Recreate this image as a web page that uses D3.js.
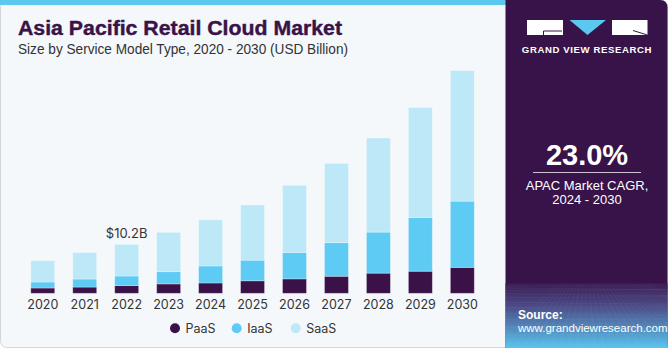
<!DOCTYPE html>
<html>
<head>
<meta charset="utf-8">
<script src="https://cdn.jsdelivr.net/npm/d3@7"></script>
<style>
  html, body { margin: 0; padding: 0; background: #ffffff; }
  svg { display: block; }
</style>
</head>
<body>
<svg id="chart"></svg>
<script>
// data (USD Billion)
var years = ["2020", "2021", "2022", "2023", "2024", "2025", "2026", "2027", "2028", "2029", "2030"];
var paas = [1.1, 1.3, 1.6, 1.95, 2.15, 2.6, 3.0, 3.55, 4.2, 4.6, 5.4];
var iaas = [1.25, 1.67, 2.0, 2.55, 3.55, 4.3, 5.5, 7.0, 8.55, 11.2, 13.8];
var saas = [4.45, 5.53, 6.6, 8.2, 9.6, 11.5, 14.0, 16.5, 19.6, 22.9, 27.2];
var seriesNames = ["PaaS", "IaaS", "SaaS"];
var seriesColors = ["#3a1248", "#5ecbf5", "#bde8f8"];
var callout = { year: "2022", label: "$10.2B" };

var W = 670, H = 350;
var svg = d3.select("#chart").attr("width", W).attr("height", H);

// card background + frame
svg.append("rect")
  .attr("x", 0.5).attr("y", 0.5).attr("width", 667).attr("height", 347)
  .attr("rx", 6)
  .attr("fill", "#f4f8fb")
  .attr("stroke", "#d4d6d9");
svg.append("rect")
  .attr("x", 0).attr("y", 0).attr("width", 506).attr("height", 5)
  .attr("fill", "#5bc8ef");

// right panel
var grad = svg.append("defs").append("linearGradient")
  .attr("id", "srcgrad").attr("x1", 0).attr("y1", 0).attr("x2", 0).attr("y2", 1);
grad.append("stop").attr("offset", "0%").attr("stop-color", "#3a1a52");
grad.append("stop").attr("offset", "35%").attr("stop-color", "#4b4a86");
grad.append("stop").attr("offset", "100%").attr("stop-color", "#5ac4ee");

svg.append("path")
  .attr("d", "M505.5,0 H660 Q667.5,0 667.5,8 V348 H505.5 Z")
  .attr("fill", "#381349");
svg.append("rect")
  .attr("x", 505.5).attr("y", 283).attr("width", 162).attr("height", 65)
  .attr("fill", "url(#srcgrad)");

// faint grid texture in the source box
var tex = svg.append("g").attr("stroke", "#ffffff").attr("stroke-opacity", 0.08).attr("stroke-width", 0.6);
d3.range(0, 14).forEach(function(i) {
  var yy = 286 + i * i * 0.33 + i * 1.6;
  tex.append("line").attr("x1", 506).attr("x2", 667).attr("y1", yy).attr("y2", yy + (i % 2 ? 2 : -1));
});
d3.range(-10, 22).forEach(function(i) {
  tex.append("line").attr("x1", 586 + i * 3).attr("y1", 284).attr("x2", 586 + i * 9).attr("y2", 348);
});

// logo
var logo = svg.append("g");
logo.append("rect").attr("x", 527).attr("y", 20).attr("width", 36).attr("height", 15).attr("fill", "#ffffff");
logo.append("path").attr("d", "M543.5,31 H562 M543.5,31 V35").attr("stroke", "#381349").attr("stroke-width", 1).attr("fill", "none");
logo.append("path").attr("d", "M569.5,20 H606 L587.5,35 Z").attr("fill", "#5bc8ef");
logo.append("rect").attr("x", 612).attr("y", 20).attr("width", 35.5).attr("height", 15).attr("fill", "#ffffff");
logo.append("path").attr("d", "M633,30.5 L647.5,35").attr("stroke", "#381349").attr("stroke-width", 1);
logo.append("text")
  .attr("x", 587).attr("y", 53)
  .attr("text-anchor", "middle")
  .attr("font-family", "'Liberation Sans', Arial, sans-serif")
  .attr("font-weight", "bold").attr("font-size", 9.6)
  .attr("letter-spacing", 0.6)
  .attr("fill", "#ffffff")
  .text("GRAND VIEW RESEARCH");

// CAGR block
svg.append("text")
  .attr("x", 587).attr("y", 165)
  .attr("text-anchor", "middle")
  .attr("font-family", "'Liberation Sans', Arial, sans-serif")
  .attr("font-weight", "bold").attr("font-size", 29)
  .attr("fill", "#ffffff")
  .text("23.0%");
svg.append("line")
  .attr("x1", 533).attr("x2", 641).attr("y1", 172.5).attr("y2", 172.5)
  .attr("stroke", "#ffffff").attr("stroke-opacity", 0.75).attr("stroke-width", 1);
svg.append("text")
  .attr("x", 587).attr("y", 190)
  .attr("text-anchor", "middle")
  .attr("font-family", "'Liberation Sans', Arial, sans-serif")
  .attr("font-size", 13).attr("fill", "#ffffff")
  .text("APAC Market CAGR,");
svg.append("text")
  .attr("x", 587).attr("y", 204)
  .attr("text-anchor", "middle")
  .attr("font-family", "'Liberation Sans', Arial, sans-serif")
  .attr("font-size", 13).attr("fill", "#ffffff")
  .text("2024 - 2030");

// source
svg.append("text")
  .attr("x", 518).attr("y", 319)
  .attr("font-family", "'Liberation Sans', Arial, sans-serif")
  .attr("font-weight", "bold").attr("font-size", 12)
  .attr("fill", "#ffffff")
  .text("Source:");
svg.append("text")
  .attr("x", 518).attr("y", 332)
  .attr("font-family", "'Liberation Sans', Arial, sans-serif")
  .attr("font-size", 11.5).attr("fill", "#ffffff")
  .text("www.grandviewresearch.com");

// titles
svg.append("text")
  .attr("x", 18).attr("y", 35)
  .attr("font-family", "'Liberation Sans', Arial, sans-serif")
  .attr("font-weight", "bold").attr("font-size", 20)
  .attr("fill", "#3a1248")
  .attr("stroke", "#3a1248").attr("stroke-width", 0.4)
  .attr("textLength", 324).attr("lengthAdjust", "spacingAndGlyphs")
  .text("Asia Pacific Retail Cloud Market");
svg.append("text")
  .attr("x", 18).attr("y", 54)
  .attr("font-family", "'Liberation Sans', Arial, sans-serif")
  .attr("font-size", 14)
  .attr("fill", "#333333")
  .attr("textLength", 330).attr("lengthAdjust", "spacingAndGlyphs")
  .text("Size by Service Model Type, 2020 - 2030 (USD Billion)");

// scales
var x = d3.scaleBand()
  .domain(years)
  .range([21.8, 483.3])
  .paddingInner(0.43)
  .paddingOuter(0.215);

var y = d3.scaleLinear()
  .domain([0, 48])
  .range([293.3, 62.9]);

var rows = years.map(function(yr, i) {
  return { year: yr, PaaS: paas[i], IaaS: iaas[i], SaaS: saas[i] };
});
var stacked = d3.stack().keys(seriesNames)(rows);

// bars
var layers = svg.append("g").selectAll("g")
  .data(stacked)
  .join("g")
  .attr("fill", function(d, i) { return seriesColors[i]; });

layers.selectAll("rect")
  .data(function(d) { return d; })
  .join("rect")
  .attr("x", function(d) { return x(d.data.year); })
  .attr("y", function(d) { return y(d[1]); })
  .attr("width", x.bandwidth())
  .attr("height", function(d) { return y(d[0]) - y(d[1]); })
  .attr("stroke", "#ffffff")
  .attr("stroke-opacity", 0.35)
  .attr("stroke-width", 0.8);

// x axis
var xAxis = svg.append("g")
  .attr("transform", "translate(0,293.3)")
  .call(d3.axisBottom(x).tickSize(0).tickPadding(7));
xAxis.select(".domain").remove();
xAxis.selectAll("text")
  .attr("font-family", "Inter, 'DejaVu Sans', sans-serif")
  .attr("font-size", 12.5)
  .attr("fill", "#333333");

// callout label
var ci = years.indexOf(callout.year);
svg.append("text")
  .attr("x", x(callout.year) + x.bandwidth() / 2)
  .attr("y", y(paas[ci] + iaas[ci] + saas[ci]) - 6)
  .attr("text-anchor", "middle")
  .attr("font-family", "Inter, 'DejaVu Sans', sans-serif")
  .attr("font-size", 13)
  .attr("fill", "#333333")
  .text(callout.label);

// legend
var legendX = [175, 236.7, 295.7];
var legend = svg.append("g").selectAll("g")
  .data(seriesNames)
  .join("g")
  .attr("transform", function(d, i) { return "translate(" + legendX[i] + ",328.3)"; });
legend.append("circle")
  .attr("r", 5)
  .attr("fill", function(d, i) { return seriesColors[i]; });
legend.append("text")
  .attr("x", 10.5).attr("y", 4.5)
  .attr("font-family", "Inter, 'DejaVu Sans', sans-serif")
  .attr("font-size", 12.5)
  .attr("fill", "#333333")
  .text(function(d) { return d; });
</script>
</body>
</html>
